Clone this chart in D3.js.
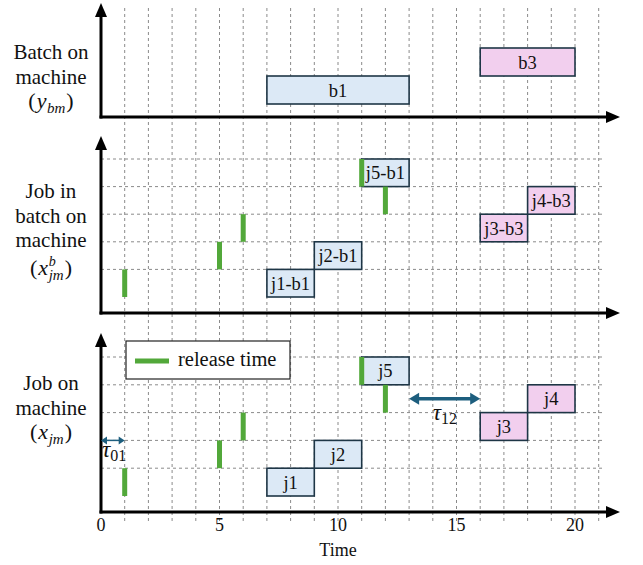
<html>
<head>
<script src="https://d3js.org/d3.v7.min.js"></script>
<style>
body { margin: 0; background: #fff; }
svg, text { font-family: "Liberation Serif", "Times New Roman", "DejaVu Serif", serif; }
text { fill: #111; }
.grid { stroke: #8a8a8a; stroke-width: 1; stroke-dasharray: 3,3; }
.axis { stroke: #000; stroke-width: 3; }
</style>
</head>
<body>
<div id="chart"></div>
<script>

// time axis
var timeTicks = [0, 5, 10, 15, 20];
var gridTimes = d3.range(1, 22);

// batches (top panel)
var batchNames = ["b1", "b3"];
var batchStart = [7, 16];
var batchEnd = [13, 20];
var batchRow = [0, 1];

// jobs (middle + bottom panels)
var jobNames = ["j1", "j2", "j3", "j4", "j5"];
var jobBatch = ["b1", "b1", "b3", "b3", "b1"];
var jobStart = [7, 9, 16, 18, 11];
var jobEnd = [9, 11, 18, 20, 13];
var jobRow = [0, 1, 2, 3, 4];
var releaseTime = [1, 5, 6, 12, 11];

// setup times shown in bottom panel
var tauNames = ["01", "12"];
var tauFrom = [0, 13];
var tauTo = [1, 16];
var tauLevel = [2, 3.5];

var batchFill = { b1: "#dce9f6", b3: "#f2cfee" };
var green = "#52a83a";
var teal = "#1d5e7e";
var serif = "'Liberation Serif', 'Times New Roman', serif";

var width = 643, height = 565;
var svg = d3.select("#chart").append("svg").attr("width", width).attr("height", height)
  .attr("font-family", serif);

var xScale = d3.scaleLinear().domain([0, 20]).range([101, 575]);

var panels = [
  { rows: 2, bottom: 104, top: 48, axisY: 117, arrowTop: 3, hgrid: false,
    label: ["Batch on", "machine"], math: { base: "y", sub: "bm" }, labelY: 59 },
  { rows: 5, bottom: 297, top: 159, axisY: 313, arrowTop: 136, hgrid: true,
    label: ["Job in", "batch on", "machine"], math: { base: "x", sub: "jm", sup: "b" }, labelY: 198 },
  { rows: 5, bottom: 496, top: 357, axisY: 512, arrowTop: 333, hgrid: true,
    label: ["Job on", "machine"], math: { base: "x", sub: "jm" }, labelY: 390 }
];
panels.forEach(function (p) {
  p.y = d3.scaleLinear().domain([0, p.rows]).range([p.bottom, p.top]);
});

// vertical grid
svg.append("g").selectAll("line").data(gridTimes).enter().append("line")
  .attr("class", "grid")
  .attr("x1", function (d) { return xScale(d); }).attr("x2", function (d) { return xScale(d); })
  .attr("y1", 8).attr("y2", 521);

// horizontal grid
panels.forEach(function (p) {
  if (!p.hgrid) return;
  svg.append("g").selectAll("line").data(d3.range(1, p.rows + 1)).enter().append("line")
    .attr("class", "grid")
    .attr("x1", xScale(0)).attr("x2", xScale(21.2))
    .attr("y1", function (d) { return p.y(d); }).attr("y2", function (d) { return p.y(d); });
});

// axes with arrows
panels.forEach(function (p) {
  var g = svg.append("g");
  var x0 = xScale(0);
  g.append("line").attr("class", "axis")
    .attr("x1", x0 - 1.5).attr("x2", 608).attr("y1", p.axisY).attr("y2", p.axisY);
  g.append("line").attr("class", "axis")
    .attr("x1", x0).attr("x2", x0).attr("y1", p.axisY + 1.5).attr("y2", p.arrowTop + 12);
  g.append("path")
    .attr("d", "M620," + p.axisY + " L606," + (p.axisY - 6) + " L606," + (p.axisY + 6) + " Z")
    .attr("fill", "#000");
  g.append("path")
    .attr("d", "M" + x0 + "," + p.arrowTop + " L" + (x0 - 6) + "," + (p.arrowTop + 14) + " L" + (x0 + 6) + "," + (p.arrowTop + 14) + " Z")
    .attr("fill", "#000");
});

// panel labels, math part built piece by piece then centred
function mathLabel(g, cx, by, m) {
  var x = 0;
  function piece(str, size, italic, dy) {
    return g.append("text").attr("x", x).attr("y", by + (dy || 0))
      .style("font-size", size + "px")
      .style("font-style", italic ? "italic" : "normal")
      .text(str);
  }
  var open = piece("(", 22, false);
  x += open.node().getComputedTextLength() + 1;
  var base = piece(m.base, 22, true);
  x += base.node().getComputedTextLength() + 0.5;
  var sx = x;
  var sub = piece(m.sub, 15, true, 5);
  var w = sub.node().getComputedTextLength();
  if (m.sup) {
    var sup = piece(m.sup, 14, true, -9);
    w = Math.max(w, sup.node().getComputedTextLength());
  }
  x = sx + w + 1;
  var close = piece(")", 22, false);
  x += close.node().getComputedTextLength();
  g.attr("transform", "translate(" + (cx - x / 2) + ",0)");
}

panels.forEach(function (p) {
  var g = svg.append("g");
  p.label.forEach(function (s, i) {
    g.append("text").attr("x", 51).attr("y", p.labelY + i * 24.5)
      .attr("text-anchor", "middle")
      .style("font-size", "21px").text(s);
  });
  var extra = p.math.sup ? 3 : 0;
  mathLabel(svg.append("g"), 51, p.labelY + p.label.length * 24.5 + extra, p.math);
});

// boxes
function drawBoxes(p, names, starts, ends, rows, batchOf) {
  var h = p.y(0) - p.y(1);
  var g = svg.append("g");
  var sel = g.selectAll("g").data(names).enter().append("g");
  sel.append("rect")
    .attr("x", function (d, i) { return xScale(starts[i]); })
    .attr("y", function (d, i) { return p.y(rows[i] + 1); })
    .attr("width", function (d, i) { return xScale(ends[i]) - xScale(starts[i]); })
    .attr("height", h)
    .attr("fill", function (d, i) { return batchFill[batchOf(d, i)]; })
    .attr("stroke", "#1e3646").attr("stroke-width", 1.6);
  sel.append("text")
    .attr("x", function (d, i) { return xScale((starts[i] + ends[i]) / 2); })
    .attr("y", function (d, i) { return p.y(rows[i] + 0.5) + 6.5; })
    .attr("text-anchor", "middle")
    .style("font-size", "18.5px")
    .text(function (d) { return d; });
}

drawBoxes(panels[0], batchNames, batchStart, batchEnd, batchRow, function (d) { return d; });
drawBoxes(panels[1], jobNames.map(function (d, i) { return d + "-" + jobBatch[i]; }), jobStart, jobEnd, jobRow,
  function (d, i) { return jobBatch[i]; });
drawBoxes(panels[2], jobNames, jobStart, jobEnd, jobRow, function (d, i) { return jobBatch[i]; });

// release times
[panels[1], panels[2]].forEach(function (p) {
  svg.append("g").selectAll("rect").data(releaseTime).enter().append("rect")
    .attr("x", function (d) { return xScale(d) - 2.5; })
    .attr("y", function (d, i) { return p.y(jobRow[i] + 1); })
    .attr("width", 5)
    .attr("height", p.y(0) - p.y(1))
    .attr("fill", green);
});

// legend
var leg = svg.append("g");
leg.append("rect").attr("x", 126).attr("y", 341).attr("width", 164).attr("height", 38)
  .attr("fill", "#fff").attr("stroke", "#222").attr("stroke-width", 1.2);
leg.append("line").attr("x1", 135).attr("x2", 169).attr("y1", 361).attr("y2", 361)
  .attr("stroke", green).attr("stroke-width", 5);
leg.append("text").attr("x", 178).attr("y", 366)
  .style("font-size", "20.5px").text("release time");

// setup time arrows
var pb = panels[2];
tauNames.forEach(function (name, i) {
  var x1 = xScale(tauFrom[i]), x2 = xScale(tauTo[i]), y = pb.y(tauLevel[i]);
  var big = (tauTo[i] - tauFrom[i]) > 1;
  var hl = big ? 10 : 6, hw = big ? 6 : 4;
  var g = svg.append("g");
  g.append("line").attr("x1", x1 + hl - 1).attr("x2", x2 - hl + 1).attr("y1", y).attr("y2", y)
    .attr("stroke", teal).attr("stroke-width", big ? 3.5 : 1.5);
  g.append("path").attr("fill", teal)
    .attr("d", "M" + x1 + "," + y + " L" + (x1 + hl) + "," + (y - hw) + " L" + (x1 + hl) + "," + (y + hw) + " Z");
  g.append("path").attr("fill", teal)
    .attr("d", "M" + x2 + "," + y + " L" + (x2 - hl) + "," + (y - hw) + " L" + (x2 - hl) + "," + (y + hw) + " Z");
  var lx = big ? (x1 + x2) / 2 - 12 : x1 + 1;
  var ly = y + (big ? 21 : 17);
  var t = g.append("text").attr("x", lx).attr("y", ly).style("font-size", "23px");
  t.append("tspan").style("font-style", "italic").text("τ");
  t.append("tspan").attr("dy", 4).style("font-size", "16px").text(name);
});

// x tick labels and title
svg.append("g").selectAll("text").data(timeTicks).enter().append("text")
  .attr("x", function (d) { return xScale(d); }).attr("y", 531)
  .attr("text-anchor", "middle")
  .style("font-size", "18px")
  .text(function (d) { return d; });
svg.append("text").attr("x", xScale(10)).attr("y", 556)
  .attr("text-anchor", "middle")
  .style("font-size", "18px").text("Time");

</script>
</body>
</html>
